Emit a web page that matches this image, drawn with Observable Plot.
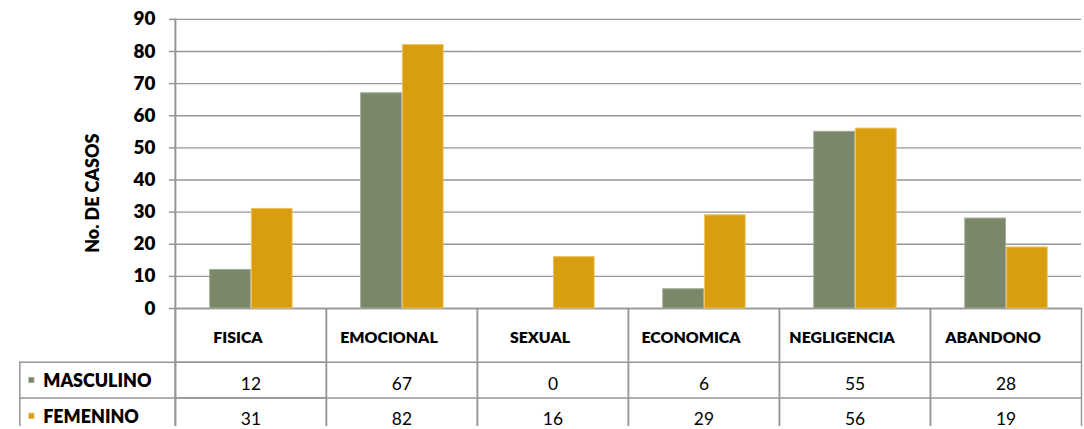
<!DOCTYPE html>
<html>
<head>
<meta charset="utf-8">
<script src="https://cdn.jsdelivr.net/npm/d3@7"></script>
<script src="https://cdn.jsdelivr.net/npm/@observablehq/plot@0.6"></script>
<style>
  html, body { margin: 0; padding: 0; background: #fff; overflow: hidden; }
  #chart svg { display: block; }
</style>
</head>
<body>
<div id="chart"></div>
<script>
const categories = ["FISICA", "EMOCIONAL", "SEXUAL", "ECONOMICA", "NEGLIGENCIA", "ABANDONO"];
const series = ["MASCULINO", "FEMENINO"];
const masculino = [12, 67, 0, 6, 55, 28];
const femenino = [31, 82, 16, 29, 56, 19];
const yTicks = [0, 10, 20, 30, 40, 50, 60, 70, 80, 90];
const yLabel = "No. DE CASOS";

const fills = ["#7b8769", "#d99e10"];
const strokes = ["#a3ab98", "#ebc262"];
const gridColor = "#969696";

const rows = categories.flatMap((c, i) => [
  {cat: c, serie: series[0], value: masculino[i]},
  {cat: c, serie: series[1], value: femenino[i]}
]);
const mRows = rows.filter(d => d.serie === series[0]);
const fRows = rows.filter(d => d.serie === series[1]);
const first = () => categories[0];
const heavy = 800;

const chart = Plot.plot({
  width: 1091,
  height: 429,
  marginLeft: 173,
  marginRight: 1,
  marginTop: 19,
  marginBottom: 119,
  style: {fontFamily: "Lato", fontSize: "17.5px", color: "#000", background: "#fff", overflow: "visible"},
  fx: {domain: categories, padding: 0, axis: null},
  x: {domain: series, paddingOuter: 0.79, paddingInner: 0.03, axis: null},
  y: {domain: [0, 90], axis: null},
  color: {domain: series, range: fills},
  marks: [
    Plot.gridY(yTicks, {stroke: gridColor, strokeOpacity: 1, strokeWidth: 1.5}),
    // table column borders
    Plot.frame({stroke: gridColor, strokeWidth: 1.5, insetTop: 291, insetBottom: -130}),
    // row separators
    Plot.ruleY([0], {dy: 54, stroke: gridColor, strokeWidth: 1.5}),
    Plot.ruleY([0], {dy: 90, stroke: gridColor, strokeWidth: 1.5}),
    // legend column row separators & left border
    Plot.ruleY([0], {fx: first, dy: 54, stroke: gridColor, strokeWidth: 1.5, insetLeft: -156.5}),
    Plot.ruleY([0], {fx: first, dy: 90, stroke: gridColor, strokeWidth: 1.5, insetLeft: -156.5}),
    Plot.frame({anchor: "left", facetAnchor: "left", stroke: gridColor, strokeWidth: 1.5, insetLeft: -156.5, insetTop: 345, insetBottom: -130}),
    // axis line
    Plot.frame({anchor: "left", facetAnchor: "left", stroke: gridColor, strokeWidth: 2, insetBottom: -130}),
    Plot.axisY(yTicks, {tickSize: 6, tickPadding: 14, fontWeight: heavy, fontSize: 19, stroke: gridColor, strokeWidth: 1.5, label: null}),
    Plot.text([yLabel], {fx: first, frameAnchor: "left", textAnchor: "middle", lineAnchor: "middle", rotate: -90, dx: -83, dy: 29.5, fontWeight: heavy, fontSize: 18}),
    // bars
    Plot.barY(rows, {fx: "cat", x: "serie", y: "value", fill: "serie", stroke: d => strokes[series.indexOf(d.serie)], strokeWidth: 1}),
    // table header
    Plot.text(categories, {fx: d => d, frameAnchor: "bottom", textAnchor: "middle", lineAnchor: "middle", dx: -13, dy: 30, fontWeight: heavy, fontSize: 16}),
    // table values
    Plot.text(mRows, {fx: "cat", frameAnchor: "bottom", textAnchor: "middle", lineAnchor: "middle", text: "value", dy: 76}),
    Plot.text(fRows, {fx: "cat", frameAnchor: "bottom", textAnchor: "middle", lineAnchor: "middle", text: "value", dy: 112}),
    // legend column
    Plot.dot([series[0]], {fx: first, frameAnchor: "bottom-left", dx: -145, dy: 72, symbol: "square", r: 3.5, fill: d => d, stroke: "#fff", strokeOpacity: 0.4}),
    Plot.dot([series[1]], {fx: first, frameAnchor: "bottom-left", dx: -145, dy: 108, symbol: "square", r: 3.5, fill: d => d, stroke: "#fff", strokeOpacity: 0.4}),
    Plot.text([series[0]], {fx: first, frameAnchor: "bottom-left", textAnchor: "start", lineAnchor: "middle", dx: -133, dy: 73.5, fontWeight: heavy, fontSize: 18}),
    Plot.text([series[1]], {fx: first, frameAnchor: "bottom-left", textAnchor: "start", lineAnchor: "middle", dx: -133, dy: 109.5, fontWeight: heavy, fontSize: 18})
  ]
});
document.getElementById("chart").appendChild(chart);
</script>
</body>
</html>
